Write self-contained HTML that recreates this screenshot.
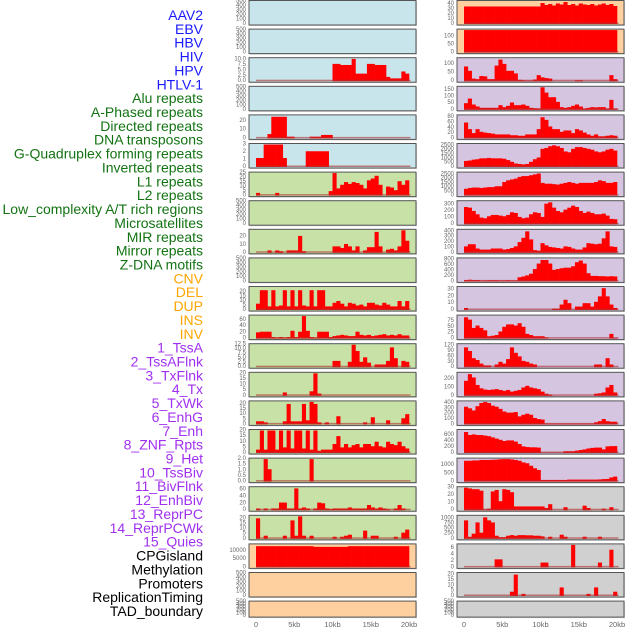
<!DOCTYPE html>
<html><head><meta charset="utf-8">
<style>
html,body{margin:0;padding:0;background:#fff;}
svg{display:block;font-family:"Liberation Sans",sans-serif;}
</style></head>
<body>
<svg id="chart" width="630" height="630" viewBox="0 0 630 630" xmlns="http://www.w3.org/2000/svg"></svg>
<script>
const labels = ["AAV2","EBV","HBV","HIV","HPV","HTLV-1","Alu repeats","A-Phased repeats","Directed repeats","DNA transposons","G-Quadruplex forming repeats","Inverted repeats","L1 repeats","L2 repeats","Low_complexity A/T rich regions","Microsatellites","MIR repeats","Mirror repeats","Z-DNA motifs","CNV","DEL","DUP","INS","INV","1_TssA","2_TssAFlnk","3_TxFlnk","4_Tx","5_TxWk","6_EnhG","7_Enh","8_ZNF_Rpts","9_Het","10_TssBiv","11_BivFlnk","12_EnhBiv","13_ReprPC","14_ReprPCWk","15_Quies","CPGisland","Methylation","Promoters","ReplicationTiming","TAD_boundary"];
const labelColors = ["#1a1aff","#1a1aff","#1a1aff","#1a1aff","#1a1aff","#1a1aff","#137313","#137313","#137313","#137313","#137313","#137313","#137313","#137313","#137313","#137313","#137313","#137313","#137313","#ffa500","#ffa500","#ffa500","#ffa500","#ffa500","#a030f0","#a030f0","#a030f0","#a030f0","#a030f0","#a030f0","#a030f0","#a030f0","#a030f0","#a030f0","#a030f0","#a030f0","#a030f0","#a030f0","#a030f0","#000","#000","#000","#000","#000"];
const xTickLabels = ["0","5kb","10kb","15kb","20kb"];
const xTickValues = [0,5,10,15,20];
const t500 = ["0","100","200","300","400","500"];

const valsL2 = [0,0,0,0,0,0,0,0,0,0,0,0,0,0,0,0,0,0,0,0,8,8,7.5,7.5,7.5,10.3,3.5,3.5,3.5,8,8,7.5,7.5,7.5,2,1.3,1.3,1.3,4.5,3.5];
const valsL4 = [0,0,0,5,25,25,25,25,2,2,0,0,0,0,2,2,2,4,4,4,0,0,0,0,0,0,0,0,0,0,0,0,0,0,0,0,0,0,0,0];
const valsL5 = [1.2,1.2,3,3,3,3,3,1.2,0,0,0,0,0,2.1,2.1,2.1,2.1,2.1,2.1,0,0,0,0,0,0,0,0,0,0,0,0,0,0,0,0,0,0,0,0,0];
const valsL6 = [3,0,0,0,0,3,0,0,0,0,0,0,0,0,0,0,0,0,0,5,25,8,12,15,13,15,14,12,8,17,19,22,12,0,10,9,6,16,12,17];
const valsL8 = [0,0,0,3,0,3,2,0,3,3,3,21,2,0,0,0,0,0,0,0,8,8,6,11,8,3,8,0,3,7,7,26,8,0,4,5,3,8,28,15];
const valsL10 = [7,22,22,4,22,4,5,22,4,22,4,22,5,4,22,4,22,22,4,4,8,10,7,4,8,7,5,6,4,8,8,6,5,8,6,4,4,10,4,10];
const valsL11 = [20,22,22,22,5,3,5,3,5,25,5,22,72,25,5,3,22,22,22,5,8,10,12,10,8,8,22,12,10,12,8,10,12,14,10,12,10,14,10,10];
const valsL12 = [0,0,0,0,0,0,0,0,0,0,0,0,0,0,0,0,0,0,0,0,3.5,3.5,0,0,3,12.5,9,3,5.5,2.5,0,1.5,1.5,1.5,3.5,11,5,0,3.5,3];
const valsL13 = [0,0,0,0,0,0,0,3,0,0,0,0,0,0,4,20,2,0,0,0,0,0,0,0,0,0,0,0,0,0,0,0,0,0,0,0,0,0,0,0];
const valsL14 = [3,3,2,0,0,0,0,3,20,3,3,3,20,4,22,20,2,0,2,0,0,8,0,0,0,0,0,0,2,0,7,0,0,0,4,0,0,0,6,10];
const valsL15 = [3,20,3,20,20,3,20,5,20,4,20,20,4,20,3,20,2,3,3,3,8,15,5,8,5,7,8,5,8,8,6,10,6,5,10,8,7,10,6,4];
const valsL16 = [0,0,2,1.1,0,0,0,0,0,0,0,0,0,0,2,0,0,0,0,0,0,0,0,0,0,0,0,0,0,0,0,0,0,0,0,0,0,0,0,0];
const valsL17 = [5,0,5,0,5,5,22,22,5,5,63,5,8,5,0,5,22,20,5,3,5,5,5,5,8,5,5,5,5,15,8,5,8,5,3,0,5,15,5,0];
const valsL18 = [20,0,3,0,0,0,0,3,0,18,3,22,3,0,3,0,0,0,0,0,2,0,2,3,4,0,0,0,8,0,3,3,0,0,0,0,2,0,6,9];
const valsL19 = [13000,13000,13000,13000,13000,13000,13000,13000,13000,13000,13000,13000,13000,13000,13000,12600,12600,12600,12600,12600,12600,12600,12600,12600,13000,13000,13000,13000,13000,13000,13000,13000,13000,13000,13000,13000,13000,13000,13000,13000];

const valsR0 = [35,35,35,35,35,35,35,35,35,35,35,35,35,35,35,35,35,35,35,35,42,38,40,37,41,39,44,38,40,37,41,39,38,40,37,39,41,38,40,36];
const valsR1 = [140,140,140,140,140,140,140,140,140,140,140,140,140,140,140,140,140,140,140,140,140,140,140,140,140,140,140,140,140,140,140,140,140,140,140,140,140,140,140,140];
const valsR2 = [85,60,15,12,30,28,12,12,90,125,100,60,60,45,8,5,3,3,10,35,22,18,15,0,0,0,0,0,0,5,5,0,0,0,0,0,0,0,35,12];
const valsR3 = [50,85,40,25,15,15,15,15,15,35,20,30,55,35,35,40,30,15,12,10,170,130,95,95,60,20,15,20,30,40,25,10,15,20,18,20,20,10,75,10];
const valsR4 = [60,35,20,35,25,22,20,18,15,15,15,15,12,12,10,10,15,15,15,35,80,70,45,35,35,25,30,30,20,35,30,22,15,10,15,8,8,10,12,10];
const valsR5 = [700,750,850,900,1000,1000,1050,1000,1000,1000,950,800,600,400,350,300,350,600,900,1100,2100,2200,2400,2500,2400,2200,1800,1700,2100,2300,2300,2200,2100,2000,1800,1700,1800,2000,2100,1900];
const valsR6 = [800,900,950,950,900,950,1000,1000,1100,1100,1600,1800,1900,2000,2200,2300,2300,2400,2500,2600,1500,1400,1400,1350,1300,1400,1500,1600,1500,1400,1500,1500,1500,1500,1600,1800,1700,1500,1500,1600];
const valsR7 = [260,250,200,150,100,90,120,140,140,130,120,140,180,170,110,90,100,150,180,170,110,310,330,250,200,180,220,250,280,260,200,170,190,170,150,150,160,130,80,75];
const valsR8 = [120,160,160,80,60,60,60,80,80,80,60,70,90,120,200,280,400,250,50,40,180,140,110,100,90,80,120,110,80,60,60,100,180,170,160,170,270,400,120,110];
const valsR9 = [50,60,50,50,30,30,40,40,40,30,30,40,30,30,150,180,220,280,450,650,780,780,650,420,450,480,500,500,550,700,760,650,300,200,200,190,190,180,190,180];
const valsR10 = [3,0,0,0,0,0,0,0,0,0,0,0,0,0,0,0,0,0,0,0,0,0,0,2,2,8,15,10,0,5,5,10,10,5,12,20,32,20,8,3];
const valsR11 = [90,80,45,55,45,35,10,12,15,30,50,60,60,55,65,50,20,15,10,10,10,5,0,0,0,0,0,0,0,0,0,0,0,0,0,0,0,0,20,3];
const valsR12 = [110,90,50,40,20,10,10,0,15,30,20,45,110,80,60,35,30,20,15,0,0,0,0,0,0,0,0,0,0,0,0,0,0,0,15,15,0,50,15,0];
const valsR13 = [180,260,220,130,90,75,70,75,80,70,60,70,50,60,70,100,120,100,90,80,50,25,15,0,0,0,0,0,0,0,0,0,0,0,25,30,40,100,130,40];
const valsR14 = [330,300,260,340,400,420,400,350,330,290,240,220,220,230,150,180,200,180,120,100,90,15,15,15,15,15,15,15,15,15,15,15,15,15,40,60,100,60,50,50];
const valsR15 = [700,600,620,600,600,580,560,520,480,440,400,420,420,380,300,220,200,190,190,180,10,10,10,10,10,10,60,60,60,80,100,120,150,170,180,180,120,220,230,230];
const valsR16 = [1250,1250,1270,1270,1300,1300,1300,1310,1320,1340,1350,1350,1330,1300,1250,1150,1100,950,800,700,100,100,100,100,100,100,100,120,120,120,120,120,120,120,120,130,150,160,250,300];
const valsR17 = [30,29,28,28,26,1,2,25,27,12,28,27,24,5,5,5,5,5,5,5,5,3,8,0,0,0,4,0,0,0,0,6,3,0,0,0,2,0,4,0];
const valsR18 = [900,100,250,800,300,1050,900,800,150,80,80,150,180,150,180,180,170,170,150,150,120,0,100,0,0,200,100,0,0,0,0,100,0,0,0,100,0,0,0,0];
const valsR19 = [0,0,0,0,0,0,0,0,2.5,2.5,0,0,0,0,0,0,0,0,0,0,1.5,1.5,0,0,0,0,0,0,7,0,0,0,0,0,0,1.5,0,0,5.5,0];
const valsR20 = [0,0,0,0,0,0,0,0,0,0,0,0,4,20,0,2,0,0,0,0,0,0,0,0,0,8,0,0,0,0,0,0,2,0,8,0,0,0,0,4];

const BLUE="#c9e5ec", GREEN="#c7e1a6", PEACH="#fecf9f", PURPLE="#d5c5e1", GRAY="#d0d0d0";
const leftPanels = [
 {vals:[],max:500,ticks:t500,bg:BLUE},{vals:[],max:500,ticks:t500,bg:BLUE},
 {vals:valsL2,max:10.4,ticks:["0.0","2.5","5.0","7.5","10.0"],bg:BLUE},
 {vals:[],max:500,ticks:t500,bg:BLUE},
 {vals:valsL4,max:26,ticks:["0","10","20"],bg:BLUE},
 {vals:valsL5,max:3,ticks:["0","1","2","3"],bg:BLUE},
 {vals:valsL6,max:25,ticks:["0","5","10","15","20","25"],bg:GREEN},
 {vals:[],max:500,ticks:t500,bg:GREEN},
 {vals:valsL8,max:28,ticks:["0","10","20"],bg:GREEN},
 {vals:[],max:500,ticks:t500,bg:GREEN},
 {vals:valsL10,max:25,ticks:["0","5","10","15","20"],bg:GREEN},
 {vals:valsL11,max:72,ticks:["0","20","40","60"],bg:GREEN},
 {vals:valsL12,max:12.5,ticks:["0.0","2.5","5.0","7.5","10.0","12.5"],bg:GREEN},
 {vals:valsL13,max:20,ticks:["0","5","10","15","20"],bg:GREEN},
 {vals:valsL14,max:22,ticks:["0","5","10","15","20"],bg:GREEN},
 {vals:valsL15,max:20,ticks:["0","5","10","15","20"],bg:GREEN},
 {vals:valsL16,max:2,ticks:["0.0","0.5","1.0","1.5","2.0"],bg:GREEN},
 {vals:valsL17,max:65,ticks:["0","20","40","60"],bg:GREEN},
 {vals:valsL18,max:22,ticks:["0","5","10","15","20"],bg:GREEN},
 {vals:valsL19,max:13800,ticks:["0","5000","10000"],bg:PEACH},
 {vals:[],max:500,ticks:t500,bg:PEACH},{vals:[],max:500,ticks:t500,bg:PEACH}
];
const rightPanels = [
 {vals:valsR0,max:45,ticks:["0","10","20","30","40"],bg:PEACH},
 {vals:valsR1,max:140,ticks:["0","50","100"],bg:PEACH},
 {vals:valsR2,max:130,ticks:["0","50","100"],bg:PURPLE},
 {vals:valsR3,max:170,ticks:["0","50","100","150"],bg:PURPLE},
 {vals:valsR4,max:85,ticks:["0","20","40","60","80"],bg:PURPLE},
 {vals:valsR5,max:2600,ticks:["0","500","1000","1500","2000","2500"],bg:PURPLE},
 {vals:valsR6,max:2650,ticks:["0","500","1000","1500","2000","2500"],bg:PURPLE},
 {vals:valsR7,max:340,ticks:["0","100","200","300"],bg:PURPLE},
 {vals:valsR8,max:420,ticks:["0","100","200","300","400"],bg:PURPLE},
 {vals:valsR9,max:820,ticks:["0","200","400","600","800"],bg:PURPLE},
 {vals:valsR10,max:33,ticks:["0","10","20","30"],bg:PURPLE},
 {vals:valsR11,max:95,ticks:["0","25","50","75"],bg:PURPLE},
 {vals:valsR12,max:125,ticks:["0","30","60","90","120"],bg:PURPLE},
 {vals:valsR13,max:270,ticks:["0","100","200"],bg:PURPLE},
 {vals:valsR14,max:420,ticks:["0","100","200","300","400"],bg:PURPLE},
 {vals:valsR15,max:750,ticks:["0","200","400","600"],bg:PURPLE},
 {vals:valsR16,max:1350,ticks:["0","500","1000"],bg:PURPLE},
 {vals:valsR17,max:30,ticks:["0","10","20","30"],bg:GRAY},
 {vals:valsR18,max:1100,ticks:["0","250","500","750","1000"],bg:GRAY},
 {vals:valsR19,max:7,ticks:["0","2","4","6"],bg:GRAY},
 {vals:valsR20,max:21,ticks:["0","5","10","15","20"],bg:GRAY},
 {vals:[],max:500,ticks:t500,bg:GRAY}
];

const NS="http://www.w3.org/2000/svg";
const svg=document.getElementById('chart');
function mk(tag,attrs,parent){const e=document.createElementNS(NS,tag);for(const k in attrs)e.setAttribute(k,attrs[k]);(parent||svg).appendChild(e);return e;}

labels.forEach((t,i)=>{
  const e=mk('text',{x:203,y:15+13.86*i,'text-anchor':'end','dominant-baseline':'central','font-size':14,fill:labelColors[i]});
  
  
  e.textContent=t;
});

const BIN=0.5;
function rowTop(i){return 0.5+28.6*i;}
function rowH(i){return i===21?16:24.5;}
function xScale(left,kb){return left+7+kb*7.65;}

function drawPanel(p,i,left,side){
  const top=rowTop(i),h=rowH(i),w=167;
  const g=mk('g',{});
  
  
  mk('rect',{x:left+1,y:top+1,width:w,height:h,fill:'#aaa',opacity:0.5},g);
  const bg=mk('rect',{x:left,y:top,width:w,height:h,fill:p.bg,stroke:'#555','stroke-width':1},g);
  
  
  const y0=top+h-1,ph=h-2;
  const yS=v=>y0-(Math.min(v,p.max)/p.max)*ph;
  p.vals.forEach((v,k)=>{
    if(v<=0)return;
    const x1=xScale(left,k*BIN),x2=xScale(left,(k+1)*BIN);
    const r=mk('rect',{x:x1,y:yS(v),width:x2-x1+0.3,height:y0-yS(v),fill:'#ff0000'},g);
    
    
  });
  if(p.vals.length){
    const bl=mk('rect',{x:xScale(left,0),y:y0-1.5,width:xScale(left,20.2)-xScale(left,0),height:1.5,fill:'#b03030',opacity:0.6},g);
    
    
  }
  p.ticks.forEach(t=>{
    const v=parseFloat(t);
    const e=mk('text',{x:left-3,y:yS(v),'text-anchor':'end','dominant-baseline':'central','font-size':6,fill:'#666'},g);
    
    
    e.textContent=t;
  });
}
leftPanels.forEach((p,i)=>drawPanel(p,i,249,'left'));
rightPanels.forEach((p,i)=>drawPanel(p,i,457,'right'));

[249,457].forEach(left=>{
  xTickValues.forEach((v,k)=>{
    const e=mk('text',{x:xScale(left,v),y:627,'text-anchor':'middle','font-size':7.5,fill:'#666'});
    
    
    e.textContent=xTickLabels[k];
  });
});
</script>
</body></html>
